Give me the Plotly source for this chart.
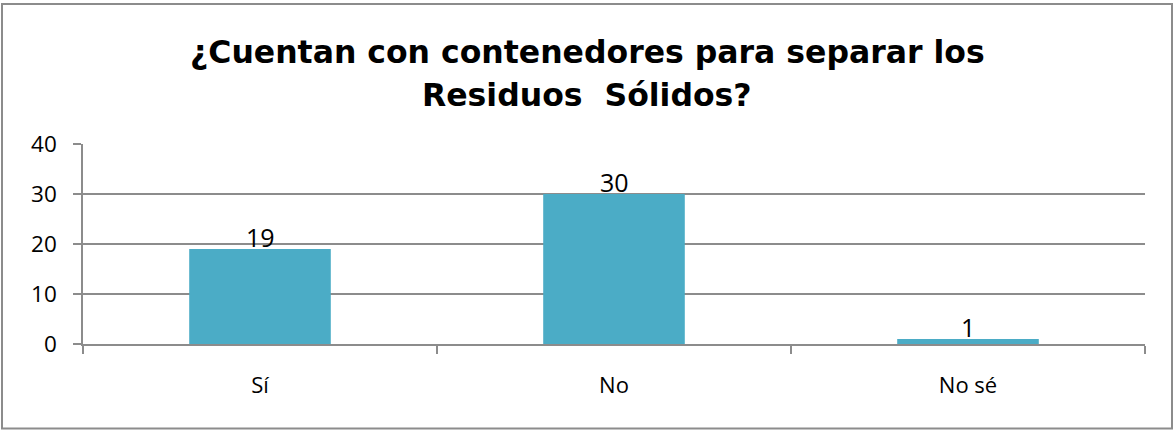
import plotly.graph_objects as go

categories = ["Sí", "No", "No sé"]
values = [19, 30, 1]
y_ticks = [0, 10, 20, 30, 40]
title_line1 = "¿Cuentan con contenedores para separar los"
title_line2 = "Residuos\u00a0 Sólidos?"

BAR_COLOR = "#4BACC6"
GRID = "#8c8c8c"
W, H = 1174, 430
L, R, T, B = 83, 29, 144, 86

fig = go.Figure()
fig.add_trace(go.Bar(x=categories, y=values, marker=dict(color=BAR_COLOR, line=dict(width=0)),
                     width=0.4, hoverinfo="x+y"))

for c, v in zip(categories, values):
    fig.add_annotation(x=c, y=v, xref="x", yref="y", text=str(v), showarrow=False,
                       yanchor="bottom", yshift=-7,
                       font=dict(family="Open Sans", size=25, color="#000000"))

pw = W - L - R
ph = H - T - B
base = H - B  # pixel row of y=0

def py(pix):
    return (base - pix) / ph

fig.add_shape(type="rect", xref="paper", yref="paper",
              x0=(2 - L) / pw, x1=(W - 2 - L) / pw,
              y0=py(H - 1.5), y1=py(4),
              line=dict(color="#8c8c8c", width=2), fillcolor="rgba(0,0,0,0)", layer="below")

title_font = dict(family="DejaVu Sans", size=31.5, color="#000000", weight="bold")
fig.add_annotation(text=title_line1, xref="paper", yref="paper", x=(W / 2 - L) / pw, y=py(52),
                   xanchor="center", yanchor="middle", showarrow=False, font=title_font)
fig.add_annotation(text=title_line2, xref="paper", yref="paper", x=(W / 2 - L) / pw, y=py(95),
                   xanchor="center", yanchor="middle", showarrow=False, font=title_font)

fig.update_layout(
    width=W, height=H,
    margin=dict(l=L, r=R, t=T, b=B, autoexpand=False),
    paper_bgcolor="white", plot_bgcolor="white",
    showlegend=False,
    font=dict(family="Open Sans", color="#000000"),
)
fig.update_yaxes(range=[0, 40], tickvals=y_ticks, showgrid=True, gridcolor=GRID, gridwidth=1.5,
                 showline=True, linecolor=GRID, linewidth=1.5, ticks="outside", ticklen=8,
                 tickcolor=GRID, tickwidth=1.5, zeroline=False,
                 tickfont=dict(family="Open Sans", size=22.5, color="#000000"), ticklabelstandoff=12)
fig.update_xaxes(showline=True, linecolor=GRID, linewidth=1.5, ticks="outside", ticklen=8,
                 tickcolor=GRID, tickwidth=1.5, tickson="boundaries", showgrid=False,
                 tickfont=dict(family="Open Sans", size=22, color="#000000"), ticklabelstandoff=21)

fig.write_html("out.html", config={"displayModeBar": False},
               post_script="document.body.style.margin='0';document.body.style.overflow='hidden';")
